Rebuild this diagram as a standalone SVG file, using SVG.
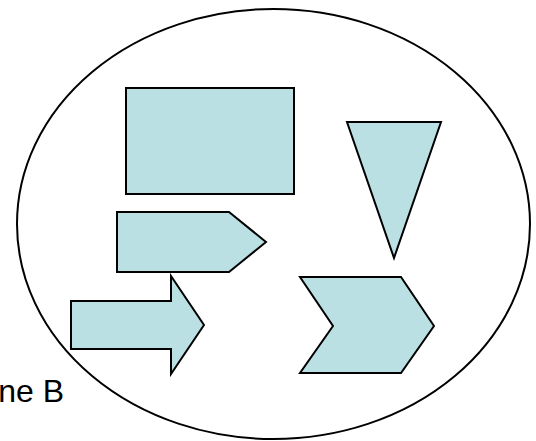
<svg xmlns="http://www.w3.org/2000/svg" width="536" height="441" viewBox="0 0 536 441">
<style>
.shape{fill:#BBE0E3;stroke:#000;stroke-width:2;stroke-linejoin:miter}
.frame{fill:none;stroke:#000;stroke-width:2}
.lbl{font-family:"Liberation Sans",Arial,sans-serif;font-size:32px;fill:#000}
</style>
<rect width="536" height="441" fill="#fff"/>
<g id="label"><text class="lbl" x="64" y="402" text-anchor="end">ne B</text></g>
<g id="frame"><ellipse class="frame" cx="273.5" cy="224" rx="256.5" ry="215"/></g>
<g id="rectangle"><rect class="shape" x="126" y="88" width="168" height="106"/></g>
<g id="pentagon"><polygon class="shape" points="117,212 229,212 266,242 229,272 117,272"/></g>
<g id="arrow"><polygon class="shape" points="71,301 171,301 171,276 204,325 171,374 171,349 71,349"/></g>
<g id="triangle"><polygon class="shape" points="347,122 441,122 394,258"/></g>
<g id="chevron"><polygon class="shape" points="300,277 401,277 434,326 401,373 300,373 333,326"/></g>
<g id="connectors"></g>
</svg>
